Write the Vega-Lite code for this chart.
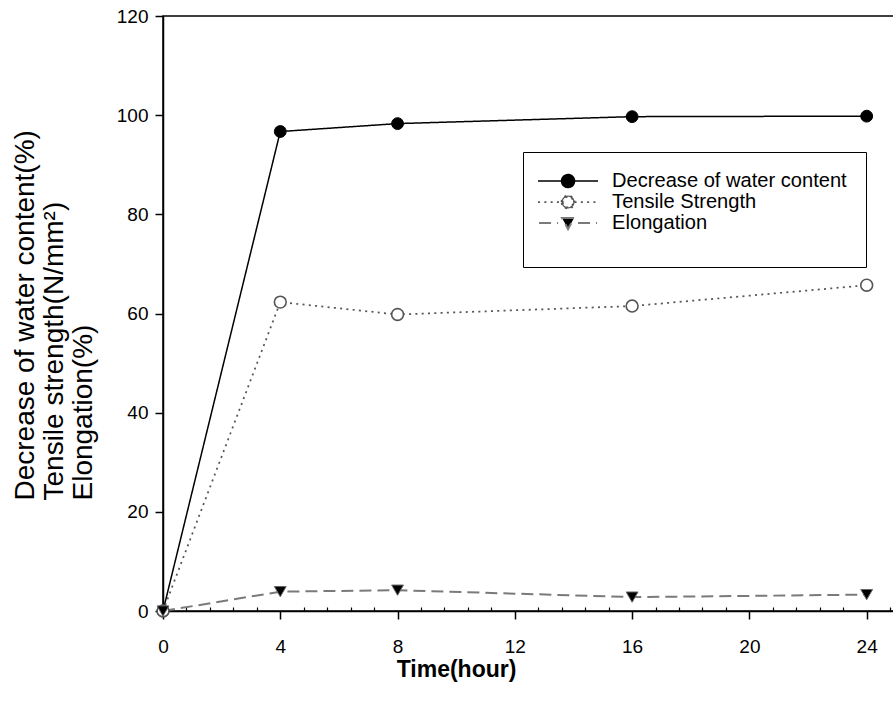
{
  "$schema": "https://vega.github.io/schema/vega-lite/v6.json",
  "autosize": "none",
  "padding": {"left": 163, "top": 16, "right": 0, "bottom": 103},
  "width": 733,
  "height": 595,
  "background": "white",
  "config": {
    "font": "Liberation Sans",
    "view": {"stroke": "#000", "strokeWidth": 1.5},
    "axis": {"grid": false, "domainColor": "#000", "domainWidth": 1.5, "tickColor": "#000", "tickWidth": 1.5, "labelColor": "#000", "titleColor": "#000", "labelFont": "Liberation Sans", "titleFont": "Liberation Sans", "labelFlush": false}
  },
  "data": {
    "values": [
      {"time": 0, "value": 0, "series": "Decrease of water content"},
      {"time": 4, "value": 96.7, "series": "Decrease of water content"},
      {"time": 8, "value": 98.3, "series": "Decrease of water content"},
      {"time": 16, "value": 99.7, "series": "Decrease of water content"},
      {"time": 24, "value": 99.8, "series": "Decrease of water content"},
      {"time": 0, "value": 0, "series": "Tensile Strength"},
      {"time": 4, "value": 62.3, "series": "Tensile Strength"},
      {"time": 8, "value": 59.8, "series": "Tensile Strength"},
      {"time": 16, "value": 61.5, "series": "Tensile Strength"},
      {"time": 24, "value": 65.7, "series": "Tensile Strength"},
      {"time": 0, "value": 0, "series": "Elongation"},
      {"time": 4, "value": 3.9, "series": "Elongation"},
      {"time": 8, "value": 4.2, "series": "Elongation"},
      {"time": 16, "value": 2.8, "series": "Elongation"},
      {"time": 24, "value": 3.3, "series": "Elongation"}
    ]
  },
  "resolve": {"axis": {"x": "independent"}},
  "layer": [
    {
      "mark": {"type": "line", "strokeCap": "butt"},
      "encoding": {
        "x": {"field": "time", "type": "quantitative", "scale": {"domain": [0, 25], "nice": false, "zero": false},
          "axis": {"orient": "bottom", "values": [0, 4, 8, 12, 16, 20, 24], "tickSize": 8, "labelFontSize": 19, "labelPadding": 18, "labelFlush": false, "title": "Time(hour)", "titleFontSize": 23, "titleFontWeight": "bold", "titleX": 293, "titleY": 58, "titleBaseline": "middle", "titleAnchor": null, "titleAlign": "center"}},
        "y": {"field": "value", "type": "quantitative", "scale": {"domain": [0, 120], "nice": false},
          "axis": {"values": [0, 20, 40, 60, 80, 100, 120], "tickSize": 8, "labelFontSize": 19, "labelPadding": 7,
            "title": ["Decrease of water content(%)", "Tensile strength(N/mm²)", "Elongation(%)"],
            "titleFontSize": 28, "titleFontWeight": "normal", "titleAngle": -90, "titleAlign": "left", "titleBaseline": "top", "titleLineHeight": 29, "titleX": -152, "titleY": 484, "titleAnchor": null}},
        "color": {"field": "series", "type": "nominal", "sort": null,
          "scale": {"domain": ["Decrease of water content", "Tensile Strength", "Elongation"], "range": ["#000000", "#555555", "#7a7a7a"]},
          "legend": {
            "orient": "none", "legendX": 360, "legendY": 136, "padding": 19,
            "strokeColor": "#000", "fillColor": "#fff",
            "labelFontSize": 20.1, "labelFont": "Liberation Sans", "labelColor": "#000", "labelLimit": 400, "labelOffset": 34,
            "symbolSize": 100, "symbolOffset": 16, "rowPadding": -1.5,
            "title": " ", "titleOrient": "bottom", "titleFontSize": 10, "titlePadding": 5,
            "encode": {"symbols": {"update": {
              "shape": {"signal": "datum.value === 'Decrease of water content' ? 'M-6,0H6M-1.3,0A1.3,1.3,0,1,1,1.3,0A1.3,1.3,0,1,1,-1.3,0Z' : datum.value === 'Tensile Strength' ? 'M-6,0H-1.3M1.3,0H6M-1.3,0A1.3,1.3,0,1,1,1.3,0A1.3,1.3,0,1,1,-1.3,0ZM-1.05,0A1.05,1.05,0,1,0,1.05,0A1.05,1.05,0,1,0,-1.05,0Z' : 'M-5.8,0H-2M2,0H5.8M-1.2,-1L1.2,-1L0,1.2Z'"},
              "fill": {"signal": "datum.value === 'Tensile Strength' ? '#555555' : '#000000'"},
              "stroke": {"signal": "datum.value === 'Decrease of water content' ? '#000000' : datum.value === 'Tensile Strength' ? '#555555' : '#7a7a7a'"},
              "strokeDash": {"signal": "datum.value === 'Tensile Strength' ? [1.5, 3] : [1, 0]"},
              "strokeWidth": {"value": 1.5},
              "size": {"value": 100},
              "opacity": {"value": 1}
            }}}
          }},
        "strokeDash": {"field": "series", "type": "nominal", "sort": null,
          "scale": {"domain": ["Decrease of water content", "Tensile Strength", "Elongation"], "range": [[1, 0], [2, 4.3], [12, 6]]},
          "legend": null},
        "strokeWidth": {"field": "series", "type": "nominal",
          "scale": {"domain": ["Decrease of water content", "Tensile Strength", "Elongation"], "range": [1.5, 2, 2]},
          "legend": null}
      }
    },
    {
      "transform": [{"filter": {"field": "series", "equal": "Decrease of water content"}}],
      "mark": {"type": "point", "shape": "circle", "filled": true, "fill": "#000", "stroke": "#000", "strokeWidth": 1, "size": 140, "opacity": 1},
      "encoding": {
        "x": {"field": "time", "type": "quantitative",
          "axis": {"orient": "top", "offset": -595, "values": [0.8, 1.6, 2.4, 3.2, 4.8, 5.6, 6.4, 7.2, 8.8, 9.6, 10.4, 11.2, 12.8, 13.6, 14.4, 15.2, 16.8, 17.6, 18.4, 19.2, 20.8, 21.6, 22.4, 23.2, 24.8], "tickSize": 4, "tickWidth": 1.2, "labels": false, "domain": false, "title": null}},
        "y": {"field": "value", "type": "quantitative"}
      }
    },
    {
      "transform": [{"filter": {"field": "series", "equal": "Tensile Strength"}}],
      "mark": {"type": "point", "shape": "circle", "filled": false, "fill": "#fff", "fillOpacity": 1, "stroke": "#555555", "strokeWidth": 1.6, "size": 140, "opacity": 1},
      "encoding": {
        "x": {"field": "time", "type": "quantitative", "axis": null},
        "y": {"field": "value", "type": "quantitative"}
      }
    },
    {
      "transform": [{"filter": {"field": "series", "equal": "Elongation"}}],
      "mark": {"type": "point", "shape": "triangle-down", "filled": true, "fill": "#000", "stroke": "#666", "strokeWidth": 1, "size": 140, "opacity": 1},
      "encoding": {
        "x": {"field": "time", "type": "quantitative", "axis": null},
        "y": {"field": "value", "type": "quantitative"}
      }
    }
  ]
}
